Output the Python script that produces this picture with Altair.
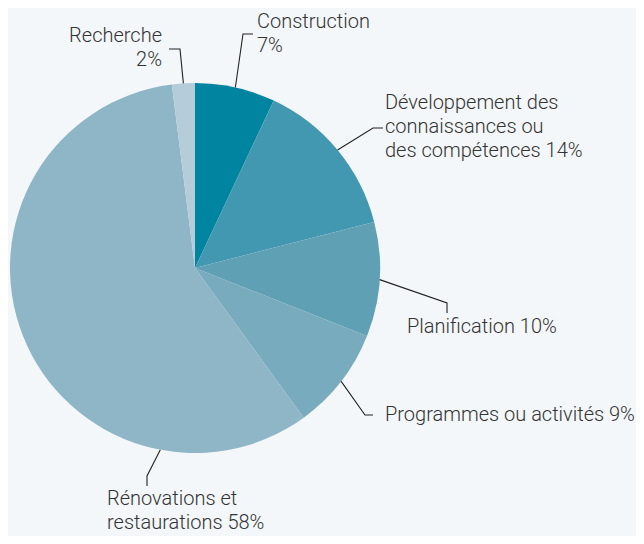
import altair as alt
import pandas as pd
import numpy as np

# ---- data ----
categories = [
    "Construction",
    "Développement des connaissances ou des compétences",
    "Planification",
    "Programmes ou activités",
    "Rénovations et restaurations",
    "Recherche",
]
values = [7, 14, 10, 9, 58, 2]
label_text = [
    "Construction\n7%",
    "Développement des\nconnaissances ou\ndes compétences 14%",
    "Planification 10%",
    "Programmes ou activités 9%",
    "Rénovations et\nrestaurations 58%",
    "Recherche\n2%",
]
colors = ["#00849f", "#4298b0", "#5fa0b5", "#78abbd", "#8fb6c6", "#b5ccd9"]

# ---- layout (pixels relative to pie centre, y downwards) ----
W, H = 628, 528
CX, CY = 187, 260
R = 185
anchor_override = {"Rénovations et restaurations": 0.53}
elbow = [(48, -234), (178, -140), (252, 35), (170, 147), (-48, 208), (-15, -219)]
line_end = [(58, -234), (188, -140), (252, 45), (178, 147), (-48, 218), (-26, -219)]
text_pos = [(62, -240), (190, -159), (212, 65), (190, 153), (-88, 237), (-33, -226)]
text_align = ["left", "left", "left", "left", "left", "right"]

pie_df = pd.DataFrame({"cat": categories, "val": values, "order": range(len(values))})

cum = np.cumsum([0] + values[:-1])
total = sum(values)
rows = []
for i, c in enumerate(categories):
    frac = anchor_override.get(c, (cum[i] + values[i] / 2) / total)
    a = 2 * np.pi * frac
    sx, sy = R * np.sin(a), -R * np.cos(a)
    for k, (px, py) in enumerate([(sx, sy), elbow[i], line_end[i]]):
        rows.append({"cat": c, "k": k, "x": px, "y": py})
lines_df = pd.DataFrame(rows)

text_df = pd.DataFrame({
    "cat": categories,
    "label": label_text,
    "x": [p[0] for p in text_pos],
    "y": [p[1] for p in text_pos],
    "align": text_align,
})

xs = alt.Scale(domain=[-CX, W - CX], range=[0, W], nice=False, zero=False)
ys = alt.Scale(domain=[-CY, H - CY], range=[0, H], nice=False, zero=False)

pie = alt.Chart(pie_df).mark_arc(radius=R, stroke=None).encode(
    theta=alt.Theta("val:Q", stack=True),
    order=alt.Order("order:Q"),
    color=alt.Color("cat:N", scale=alt.Scale(domain=categories, range=colors), legend=None),
    x=alt.value(CX),
    y=alt.value(CY),
)

leaders = alt.Chart(lines_df).mark_line(color="#222222", strokeWidth=1.1).encode(
    x=alt.X("x:Q", scale=xs, axis=None),
    y=alt.Y("y:Q", scale=ys, axis=None),
    detail="cat:N",
    order="k:Q",
)

text_common = dict(font="Roboto", fontSize=20, fontWeight=300, color="#333333", lineBreak="\n",
                   lineHeight=24, baseline="alphabetic")
labels_left = alt.Chart(text_df[text_df["align"] == "left"]).mark_text(align="left", **text_common).encode(
    x=alt.X("x:Q", scale=xs, axis=None),
    y=alt.Y("y:Q", scale=ys, axis=None),
    text="label:N",
)
labels_right = alt.Chart(text_df[text_df["align"] == "right"]).mark_text(align="right", **text_common).encode(
    x=alt.X("x:Q", scale=xs, axis=None),
    y=alt.Y("y:Q", scale=ys, axis=None),
    text="label:N",
)

chart = alt.layer(pie, leaders, labels_left, labels_right).properties(
    width=W, height=H, padding=0, autosize="none", background="#f3f7f9"
).configure_view(stroke=None)

chart.save("out.html", embed_options={"renderer": "svg", "actions": False})
